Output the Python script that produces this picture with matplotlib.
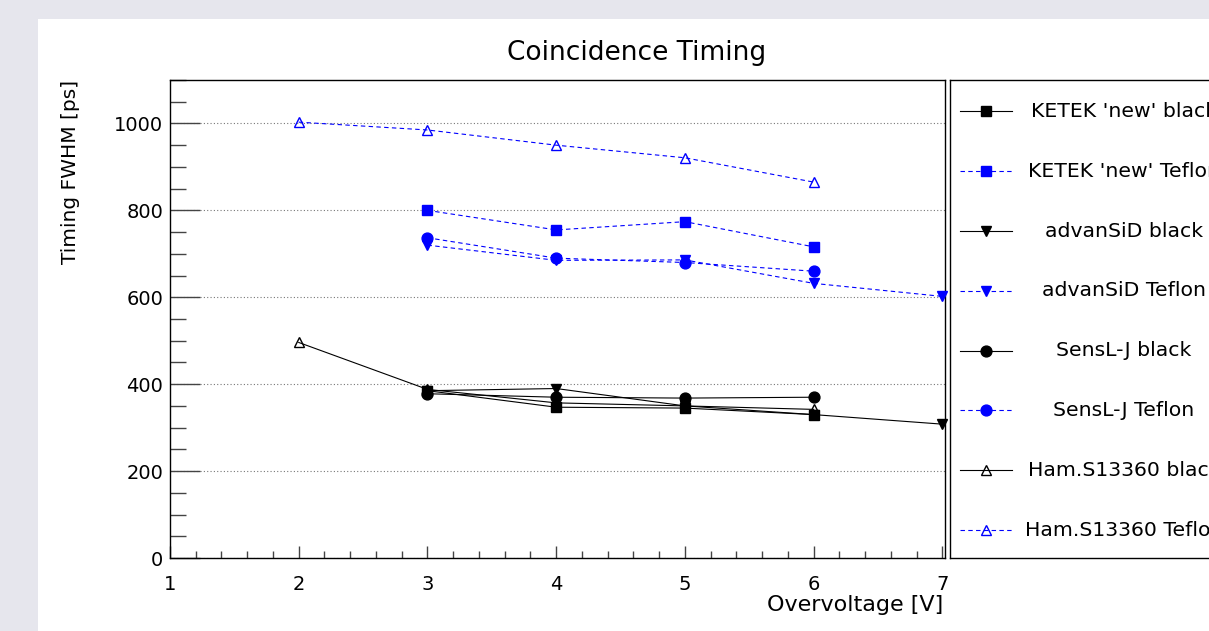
import matplotlib
matplotlib.use('Agg')
import matplotlib.pyplot as plt
from matplotlib.patches import Rectangle
from matplotlib.ticker import MultipleLocator

# Overvoltage points for every detector
ketek_v = [3, 4, 5, 6]
advansid_v = [3, 4, 5, 6, 7]
sensl_v = [3, 4, 5, 6]
ham_v = [2, 3, 4, 5, 6]

# Timing FWHM in ps
ketek_black = [385, 347, 345, 330]
ketek_teflon = [800, 755, 774, 716]
advansid_black = [385, 390, 350, 330, 308]
advansid_teflon = [720, 685, 686, 632, 602]
sensl_black = [378, 370, 368, 370]
sensl_teflon = [737, 690, 680, 660]
ham_black = [496, 388, 357, 350, 342]
ham_teflon = [1003, 985, 950, 921, 865]

labels = ["KETEK 'new' black", "KETEK 'new' Teflon", "advanSiD black", "advanSiD Teflon",
          "SensL-J black", "SensL-J Teflon", "Ham.S13360 black", "Ham.S13360 Teflon"]

plt.rcParams['font.family'] = ['DejaVu Sans']

W, H = 1209, 631
fig = plt.figure(figsize=(W / 100, H / 100), dpi=100)
fig.patch.set_facecolor('#e6e6ed')
# white canvas inside grey border
fig.add_artist(Rectangle((38 / W, 0), 1, 1 - 19 / H, transform=fig.transFigure,
                         facecolor='white', edgecolor='none', zorder=-5))

ax = fig.add_axes([170 / W, (H - 558) / H, 775 / W, 478 / H])
ax.patch.set_alpha(0)

black = dict(color='black', lw=0.8, ls='-')
blue = dict(color='#0000ff', lw=0.8, ls=(0, (4, 3)))

series = [
    (ketek_v, ketek_black, black, dict(marker='s', ms=7.3, mfc='black', mec='black')),
    (ketek_v, ketek_teflon, blue, dict(marker='s', ms=7.3, mfc='#0000ff', mec='#0000ff')),
    (advansid_v, advansid_black, black, dict(marker='v', ms=7.8, mfc='black', mec='black')),
    (advansid_v, advansid_teflon, blue, dict(marker='v', ms=7.8, mfc='#0000ff', mec='#0000ff')),
    (sensl_v, sensl_black, black, dict(marker='o', ms=7.8, mfc='black', mec='black')),
    (sensl_v, sensl_teflon, blue, dict(marker='o', ms=7.8, mfc='#0000ff', mec='#0000ff')),
    (ham_v, ham_black, black, dict(marker='^', ms=7.5, mfc='none', mec='black', mew=1)),
    (ham_v, ham_teflon, blue, dict(marker='^', ms=7.5, mfc='none', mec='#0000ff', mew=1)),
]

for x, y, line, mk in series:
    ax.plot(x, y, **line, **mk, zorder=3, clip_on=False)

ax.set_xlim(1, 7.02)
ax.set_ylim(0, 1100)
ax.xaxis.set_major_locator(MultipleLocator(1))
ax.xaxis.set_minor_locator(MultipleLocator(0.2))
ax.yaxis.set_major_locator(MultipleLocator(200))
ax.yaxis.set_minor_locator(MultipleLocator(50))
ax.tick_params(axis='both', which='both', direction='in', top=False, right=False,
               color='#444444', width=1, labelsize=14)
ax.tick_params(axis='y', which='major', length=21.5, pad=5)
ax.tick_params(axis='y', which='minor', length=11.5)
ax.tick_params(axis='x', which='major', length=9, pad=12)
ax.tick_params(axis='x', which='minor', length=5)
ax.yaxis.grid(True, which='major', ls=(0, (1, 2)), color='#777777', lw=0.8)
for s in ax.spines.values():
    s.set_color('black')
    s.set_linewidth(1)

fig.text(637 / W, 1 - 53 / H, 'Coincidence Timing', ha='center', va='center', fontsize=19)
fig.text(943 / W, 1 - 605 / H, 'Overvoltage [V]', ha='right', va='center', fontsize=16)
fig.text(71 / W, 1 - 80 / H, 'Timing FWHM [ps]', ha='center', va='top', rotation=90, fontsize=14.5)

# legend box drawn by hand, in pixel units
lax = fig.add_axes([950 / W, (H - 558) / H, 320 / W, 478 / H])
lax.set_xlim(950, 1270)
lax.set_ylim(558, 80)
lax.set_xticks([])
lax.set_yticks([])
for s in lax.spines.values():
    s.set_color('black')
    s.set_linewidth(1)

for i, (x, y, line, mk) in enumerate(series):
    yy = 111.5 + 59.8 * i
    lax.plot([960, 1012], [yy, yy], **line)
    lax.plot([986], [yy], ls='none', **mk)
    lax.text(1124, yy, labels[i], ha='center', va='center', fontsize=14.7)

fig.savefig('out.png', dpi=100, facecolor=fig.get_facecolor())
